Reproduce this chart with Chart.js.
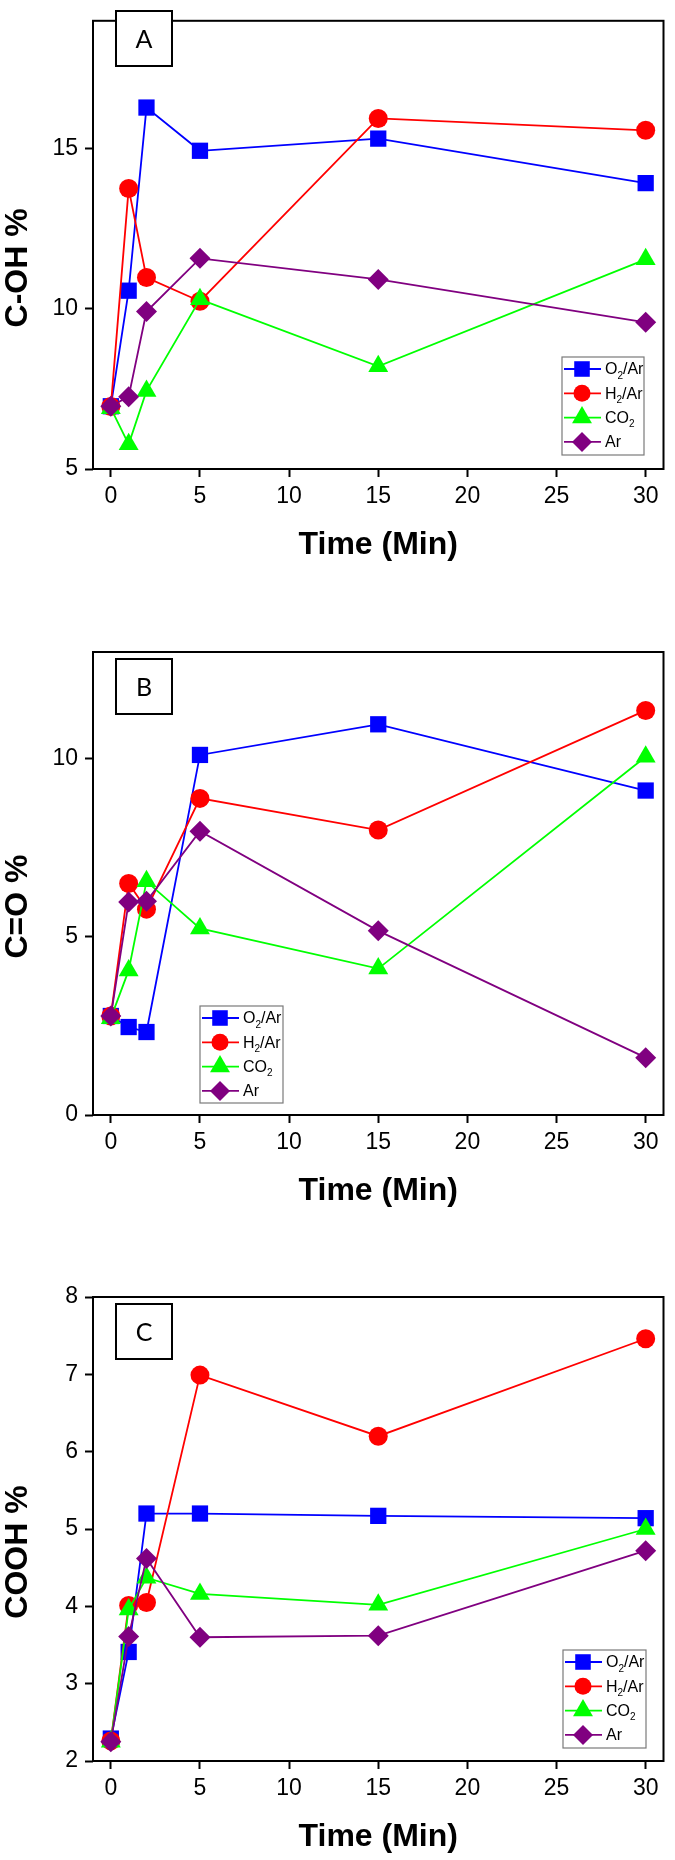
<!DOCTYPE html>
<html><head><meta charset="utf-8">
<script src="https://cdn.jsdelivr.net/npm/chart.js@4.4.1/dist/chart.umd.min.js"></script>
<style>
html,body{margin:0;padding:0;background:#fff;}
.wrap{position:relative;width:675px;height:620px;}
canvas{display:block;}
</style></head><body>
<div class="wrap"><canvas id="cA"></canvas></div>
<div class="wrap"><canvas id="cB"></canvas></div>
<div class="wrap"><canvas id="cC"></canvas></div>
<script>
// ---------- DATA ----------
const times = [0, 1, 2, 5, 15, 30];
const xTicks = [0, 5, 10, 15, 20, 25, 30];
const seriesNames = ['O2/Ar', 'H2/Ar', 'CO2', 'Ar'];
// legend label pieces: [main, subscript, rest]
const seriesLabelParts = [['O', '2', '/Ar'], ['H', '2', '/Ar'], ['CO', '2', ''], ['Ar', '', '']];

// Panel A : C-OH %
const cohO2  = [6.96, 10.57, 16.29, 14.94, 15.32, 13.93];
const cohH2  = [6.95, 13.76, 10.98, 10.24, 15.95, 15.58];
const cohCO2 = [6.90, 5.77, 7.44, 10.30, 8.21, 11.55];
const cohAr  = [6.96, 7.26, 9.92, 11.58, 10.92, 9.58];
const cohTicks = [5, 10, 15];

// Panel B : C=O %
const coO2  = [2.78, 2.47, 2.33, 10.11, 10.97, 9.11];
const coH2  = [2.78, 6.50, 5.78, 8.89, 8.00, 11.36];
const coCO2 = [2.72, 4.06, 6.56, 5.24, 4.11, 10.06];
const coAr  = [2.78, 5.98, 6.00, 7.97, 5.17, 1.61];
const coTicks = [0, 5, 10];

// Panel C : COOH %
const coohO2  = [2.29, 3.41, 5.20, 5.20, 5.17, 5.14];
const coohH2  = [2.26, 4.01, 4.05, 6.99, 6.20, 7.46];
const coohCO2 = [2.25, 3.96, 4.37, 4.16, 4.02, 5.00];
const coohAr  = [2.25, 3.61, 4.62, 3.60, 3.62, 4.72];
const coohTicks = [2, 3, 4, 5, 6, 7, 8];

// ---------- STYLE ----------
const colors = ['#0000FF', '#FF0000', '#00FF00', '#800080'];
const pStyles = ['rect', 'circle', 'triangle', 'rectRot'];
const pRadius = [11.5, 9.5, 11.5, 10.5];
const legRadius = [11, 8.5, 11.5, 10];
const drawOrder = [3, 2, 1, 0];
const FONT = "'Liberation Sans', Arial, sans-serif";

function makeDatasets(arrs) {
  return arrs.map((vals, i) => ({
    label: seriesNames[i],
    data: times.map((t, j) => ({ x: t, y: vals[j] })),
    borderColor: colors[i],
    backgroundColor: colors[i],
    pointBackgroundColor: colors[i],
    pointBorderColor: colors[i],
    pointBorderWidth: 0,
    pointStyle: pStyles[i],
    pointRadius: pRadius[i],
    pointHoverRadius: pRadius[i],
    borderWidth: 1.8,
    showLine: true,
    tension: 0,
    order: drawOrder[i],
    clip: false
  }));
}

const panelPlugin = {
  id: 'panel',
  afterDraw(chart, args, opts) {
    const ctx = chart.ctx;
    const a = chart.chartArea;
    ctx.save();
    // frame
    ctx.strokeStyle = '#000';
    ctx.lineWidth = 2;
    ctx.strokeRect(a.left, a.top, a.right - a.left, a.bottom - a.top);
    // y axis title
    ctx.save();
    ctx.translate(opts.yTitleX, (a.top + a.bottom) / 2 + opts.yTitleShift);
    ctx.rotate(-Math.PI / 2);
    ctx.fillStyle = '#000';
    ctx.font = 'bold 32px ' + FONT;
    ctx.textAlign = 'center';
    ctx.textBaseline = 'middle';
    ctx.fillText(opts.yTitle, 0, 0);
    ctx.restore();
    // letter box
    const lb = opts.letterBox;
    ctx.fillStyle = '#fff';
    ctx.fillRect(lb.x, lb.y, lb.w, lb.h);
    ctx.strokeRect(lb.x, lb.y, lb.w, lb.h);
    ctx.fillStyle = '#000';
    ctx.font = "25px Lato, 'Open Sans', sans-serif";
    ctx.textAlign = 'center';
    ctx.textBaseline = 'middle';
    ctx.fillText(opts.letter, lb.x + lb.w / 2, lb.y + lb.h / 2 + 1);
    // legend
    const lg = opts.legend;
    ctx.fillStyle = '#fff';
    ctx.fillRect(lg.x, lg.y, lg.w, lg.h);
    ctx.strokeStyle = '#7a7a7a';
    ctx.lineWidth = 1.2;
    ctx.strokeRect(lg.x, lg.y, lg.w, lg.h);
    for (let i = 0; i < seriesLabelParts.length; i++) {
      const cy = lg.y + 12 + i * 24.3;
      const mx = lg.x + 20;
      ctx.strokeStyle = colors[i];
      ctx.lineWidth = 1.8;
      ctx.beginPath();
      ctx.moveTo(lg.x + 2, cy);
      ctx.lineTo(lg.x + 39, cy);
      ctx.stroke();
      ctx.fillStyle = colors[i];
      Chart.helpers.drawPoint(ctx, { pointStyle: pStyles[i], radius: legRadius[i], rotation: 0, borderWidth: 0 }, mx, cy);
      const [m, s, r] = seriesLabelParts[i];
      let tx = lg.x + 43;
      ctx.fillStyle = '#000';
      ctx.textAlign = 'left';
      ctx.textBaseline = 'middle';
      ctx.font = '16px ' + FONT;
      ctx.fillText(m, tx, cy + 1);
      tx += ctx.measureText(m).width;
      if (s) {
        ctx.font = '10px ' + FONT;
        ctx.fillText(s, tx, cy + 7);
        tx += ctx.measureText(s).width;
      }
      if (r) {
        ctx.font = '16px ' + FONT;
        ctx.fillText(r, tx, cy + 1);
      }
    }
    ctx.restore();
  }
};

function makeChart(id, arrs, yTitle, yMin, yMax, yTicks, top, bottom, letter, legendPos) {
  const H = 620;
  new Chart(document.getElementById(id), {
    type: 'line',
    data: { datasets: makeDatasets(arrs) },
    plugins: [panelPlugin],
    options: {
      responsive: false,
      animation: false,
      devicePixelRatio: 1,
      layout: { padding: { top: top, right: 6, left: 0, bottom: 0 } },
      plugins: {
        legend: { display: false },
        tooltip: { enabled: false },
        panel: {
          letter: letter,
          yTitle: yTitle,
          yTitleX: 18,
          yTitleShift: 23,
          letterBox: { x: 116, y: top + 7, w: 56, h: 55 },
          legend: legendPos
        }
      },
      scales: {
        x: {
          type: 'linear',
          min: -1, max: 31,
          afterFit: s => { s.height = H - bottom; },
          afterBuildTicks: s => { s.ticks = xTicks.map(v => ({ value: v })); },
          border: { display: false },
          grid: { display: true, drawOnChartArea: false, drawTicks: true, tickLength: 8, tickWidth: 2, tickColor: '#000' },
          ticks: { color: '#000', padding: 6, maxRotation: 0, font: { family: FONT, size: 23 } },
          title: { display: true, text: 'Time (Min)', color: '#000',
                   font: { family: FONT, size: 32, weight: 'bold', lineHeight: 1 },
                   padding: { top: 0, bottom: H - (bottom + 76) - 16 } }
        },
        y: {
          type: 'linear',
          min: yMin, max: yMax,
          afterFit: s => { s.width = 93; },
          afterBuildTicks: s => { s.ticks = yTicks.map(v => ({ value: v })); },
          border: { display: false },
          grid: { display: true, drawOnChartArea: false, drawTicks: true, tickLength: 8, tickWidth: 2, tickColor: '#000' },
          ticks: { color: '#000', padding: 7, font: { family: FONT, size: 23 } },
          title: { display: false }
        }
      }
    }
  });
}

function sizeCanvas(id) {
  const c = document.getElementById(id);
  c.width = 675; c.height = 620;
  c.style.width = '675px'; c.style.height = '620px';
}
['cA', 'cB', 'cC'].forEach(sizeCanvas);

makeChart('cA', [cohO2, cohH2, cohCO2, cohAr], 'C-OH %', 5, 19, cohTicks, 4, 469, 'A',
  { x: 562, y: 357, w: 82, h: 98 });
makeChart('cB', [coO2, coH2, coCO2, coAr], 'C=O %', 0, 13, coTicks, 32, 495, 'B',
  { x: 200, y: 386, w: 83, h: 97 });
makeChart('cC', [coohO2, coohH2, coohCO2, coohAr], 'COOH %', 2, 8, coohTicks, 57, 521, 'C',
  { x: 563, y: 410, w: 83, h: 98 });
</script>
</body></html>
